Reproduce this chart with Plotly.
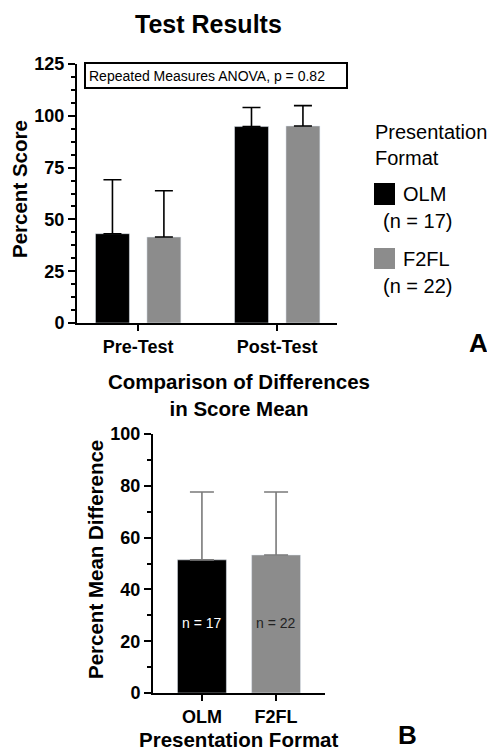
import plotly.graph_objects as go

# ---------------- data ----------------
test_phases = ["Pre-Test", "Post-Test"]
olm_score_mean = [43.1, 94.8]
olm_score_sd = [26.0, 9.2]
f2fl_score_mean = [41.5, 95.1]
f2fl_score_sd = [22.3, 9.8]

formats = ["OLM", "F2FL"]
diff_mean = [51.4, 53.3]
diff_sd = [26.2, 24.3]
group_n = [17, 22]

anova_text = "Repeated Measures ANOVA, p = 0.82"

# ---------------- style ----------------
OFF = 8                     # page body margin offset
FW, FH = 495 - OFF, 751 - OFF
BLACK = "#000000"
GRAY = "#8c8c8c"
ERR_GRAY = "#7a7a7a"
FONT = "Liberation Sans"


def px(x):
    return (x - OFF) / FW


def py(y):
    return 1 - (y - OFF) / FH


fig = go.Figure()

# Panel A bars
fig.add_trace(go.Bar(
    x=test_phases, y=olm_score_mean, name="OLM", marker_color=BLACK,
    error_y=dict(type="data", array=olm_score_sd, arrayminus=[0] * len(olm_score_sd),
                 symmetric=False, color=BLACK, thickness=1.6, width=9),
    xaxis="x", yaxis="y", showlegend=False,
))
fig.add_trace(go.Bar(
    x=test_phases, y=f2fl_score_mean, name="F2FL", marker_color=GRAY,
    error_y=dict(type="data", array=f2fl_score_sd, arrayminus=[0] * len(f2fl_score_sd),
                 symmetric=False, color=BLACK, thickness=1.6, width=9),
    xaxis="x", yaxis="y", showlegend=False,
))

# Panel B bars
fig.add_trace(go.Bar(
    x=formats, y=diff_mean, marker_color=[BLACK, GRAY], width=0.66,
    error_y=dict(type="data", array=diff_sd, arrayminus=[0] * len(diff_sd),
                 symmetric=False, color=ERR_GRAY, thickness=1.6, width=12),
    xaxis="x2", yaxis="y2", showlegend=False,
))

axis_common = dict(
    showline=True, linewidth=2, linecolor=BLACK, showgrid=False, zeroline=False,
    ticks="outside", tickwidth=2, tickcolor=BLACK, automargin=False,
    tickfont=dict(family=FONT, size=18, color=BLACK, weight="bold"),
)

fig.update_layout(
    width=FW, height=FH,
    margin=dict(l=0, r=0, t=0, b=0, pad=0),
    paper_bgcolor="white", plot_bgcolor="white",
    barmode="group", bargap=0.26, bargroupgap=0.34,
    font=dict(family=FONT, color=BLACK),
    xaxis=dict(domain=[px(77), px(337)], anchor="y", type="category",
               range=[-0.44, 1.43], ticklen=6, **axis_common),
    yaxis=dict(domain=[py(323), py(64)], anchor="x", range=[0, 125], dtick=25,
               ticklen=7, minor=dict(dtick=6.25, ticklen=4, tickwidth=2, ticks="outside", tickcolor=BLACK),
               **axis_common),
    xaxis2=dict(domain=[px(153), px(325)], anchor="y2", type="category",
                range=[-0.66, 1.66], ticklen=6, **axis_common),
    yaxis2=dict(domain=[py(693), py(434)], anchor="x2", range=[0, 100], dtick=20,
                ticklen=7, minor=dict(dtick=10, ticklen=4, tickwidth=2, ticks="outside", tickcolor=BLACK),
                **axis_common),
)

ann = []


def text(x, y, s, size, bold=False, xanchor="center", yanchor="middle", angle=0, color=BLACK,
         xref="paper", yref="paper", align="center"):
    ann.append(dict(x=x, y=y, xref=xref, yref=yref, text=s, showarrow=False,
                    xanchor=xanchor, yanchor=yanchor, textangle=angle, align=align,
                    font=dict(family=FONT, size=size, color=color,
                              weight="bold" if bold else "normal")))


# titles
text(px(208), py(24), "Test Results", 25, bold=True)
text(px(20), py(189), "Percent Score", 20.5, bold=True, angle=-90)
text(px(239), py(395), "Comparison of Differences<br>in Score Mean", 20.5, bold=True)
text(px(95), py(560), "Percent Mean Difference", 20.5, bold=True, angle=-90)
text(px(239), py(739), "Presentation Format", 20.5, bold=True)
text(px(478), py(343), "A", 26, bold=True)
text(px(407), py(735), "B", 26, bold=True)

# ANOVA box
text(px(87), py(75.5), anova_text, 14, xanchor="left")
shapes = [dict(type="rect", xref="paper", yref="paper",
               x0=px(85), x1=px(347), y0=py(88), y1=py(63),
               line=dict(color=BLACK, width=2), fillcolor="rgba(0,0,0,0)")]

# n labels inside panel B bars
for f, n, c in zip(formats, group_n, ["white", "#222222"]):
    text(f, 27, f"n = {n}", 14, xref="x2", yref="y2", color=c)

# manual legend
text(px(373), py(145), "Presentation<br>Format", 20, xanchor="left", align="left")
leg_rows = [(183, 205, BLACK, formats[0], group_n[0]), (248, 269, GRAY, formats[1], group_n[1])]
for y0, y1, col, name, n in leg_rows:
    shapes.append(dict(type="rect", xref="paper", yref="paper",
                       x0=px(374), x1=px(395), y0=py(y1), y1=py(y0),
                       line=dict(width=0), fillcolor=col))
    text(px(401), py((y0 + y1) / 2), name, 20, xanchor="left")
    text(px(381), py((y0 + y1) / 2 + 27), f"(n = {n})", 20, xanchor="left")

fig.update_layout(annotations=ann, shapes=shapes)

fig.write_html("out.html")
